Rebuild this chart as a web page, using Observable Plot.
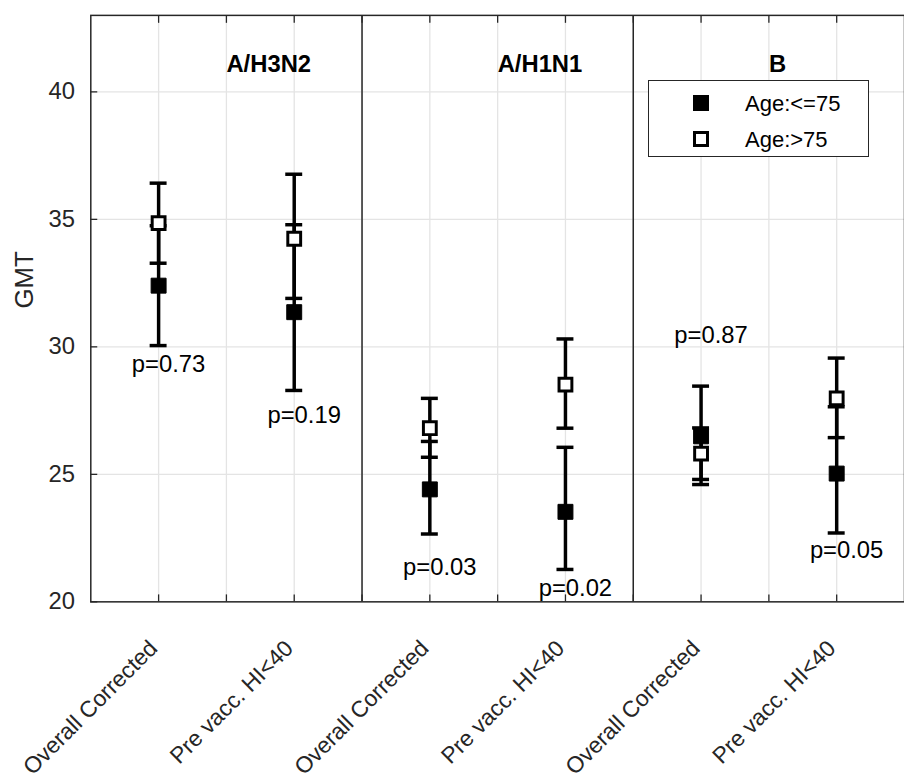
<!DOCTYPE html>
<html>
<head>
<meta charset="utf-8">
<script src="https://cdn.jsdelivr.net/npm/d3@7"></script>
<script src="https://cdn.jsdelivr.net/npm/@observablehq/plot@0.6"></script>
<style>
  body { margin: 0; background: #fff; font-family: "Liberation Sans", Arial, Helvetica, sans-serif; }
  #wrap { position: relative; width: 904px; height: 780px; overflow: hidden; background: #fff; }
  #chart { position: absolute; left: 0; top: 0; }
  #legend { position: absolute; left: 648px; top: 80px; width: 219px; height: 75px;
            border: 1.5px solid #262626; background: #fff; }
  .item { position: absolute; left: 0; height: 30px; width: 219px; }
  .item svg { position: absolute; left: 44px; top: 6px; }
  .item span { position: absolute; left: 96px; top: 2px; font-size: 22px; color: #000; line-height: 26px; }
</style>
</head>
<body>
<div id="wrap"><div id="chart"></div><div id="legend"></div></div>
<script>
// ---- data ----
const strains = ["A/H3N2", "A/H1N1", "B"];
const categories = ["Overall Corrected", "Pre vacc. HI<40"];
const seriesNames = ["Age:<=75", "Age:>75"];
const yLabel = "GMT";

// order: H3N2-OC, H3N2-PV, H1N1-OC, H1N1-PV, B-OC, B-PV
const youngGMT = [32.40, 31.36, 24.41, 23.53, 26.49, 25.03];
const youngLo  = [30.05, 28.29, 22.66, 21.27, 24.60, 22.70];
const youngHi  = [34.75, 34.79, 26.29, 26.06, 28.46, 27.65];

const oldGMT = [34.85, 34.24, 26.81, 28.52, 25.81, 27.98];
const oldLo  = [33.28, 31.90, 25.67, 26.81, 24.80, 26.44];
const oldHi  = [36.42, 36.77, 27.98, 30.31, 26.82, 29.56];

const pValues   = ["p=0.73", "p=0.19", "p=0.03", "p=0.02", "p=0.87", "p=0.05"];
const pLabelGMT = [29.30, 27.31, 21.36, 20.52, 30.44, 22.02];

const yTicks = [20, 25, 30, 35, 40];

// ---- build table ----
const rows = [];
strains.forEach((s, i) => categories.forEach((c, j) => {
  const k = i * categories.length + j;
  rows.push({
    strain: s, category: c, x: i * 4 + 1 + j * 2,
    yG: youngGMT[k], yL: youngLo[k], yH: youngHi[k],
    oG: oldGMT[k], oL: oldLo[k], oH: oldHi[k],
    p: pValues[k], pY: pLabelGMT[k]
  });
}));
const gridXs = d3.range(1, strains.length * 4);
const dividers = strains.slice(1).map((_, i) => (i + 1) * 4);

const ink = "#262626";
const capHalf = 0.125;
const barW = 3.5;

function errorMarks(lo, hi) {
  return [
    Plot.ruleX(rows, {x: "x", y1: lo, y2: hi, stroke: "black", strokeWidth: barW}),
    Plot.ruleY(rows, {y: lo, x1: d => d.x - capHalf, x2: d => d.x + capHalf, stroke: "black", strokeWidth: barW}),
    Plot.ruleY(rows, {y: hi, x1: d => d.x - capHalf, x2: d => d.x + capHalf, stroke: "black", strokeWidth: barW})
  ];
}

const chart = Plot.plot({
  width: 911,
  height: 780,
  marginLeft: 91,
  marginRight: 0,
  marginTop: 15,
  marginBottom: 174,
  style: {fontFamily: '"Liberation Sans", Arial, Helvetica, sans-serif', background: "#fff"},
  x: {domain: [0, 12]},
  y: {domain: [20, 43]},
  marks: [
    Plot.gridX(gridXs, {stroke: "#e4e4e4", strokeOpacity: 1, strokeWidth: 1.3}),
    Plot.gridY(yTicks, {stroke: "#e4e4e4", strokeOpacity: 1, strokeWidth: 1.3}),
    Plot.ruleX(dividers, {stroke: ink, strokeWidth: 1.5}),
    Plot.frame({stroke: ink, strokeWidth: 1.5}),
    Plot.axisX(gridXs, {anchor: "bottom", tickSize: -7, tickFormat: () => "", label: null, stroke: ink, strokeWidth: 1.3}),
    Plot.axisX(gridXs, {anchor: "top", tickSize: -7, tickFormat: () => "", label: null, stroke: ink, strokeWidth: 1.3}),
    Plot.axisY(yTicks, {anchor: "left", tickSize: -7, tickPadding: 23, fontSize: 24, label: null, color: ink, strokeWidth: 1.3}),
    Plot.text(rows, {x: "x", text: "category", frameAnchor: "bottom", rotate: -45, textAnchor: "end",
      lineAnchor: "middle", dx: -5, dy: 43, fontSize: 23, fill: ink}),
    Plot.text([{t: yLabel}], {text: "t", frameAnchor: "left", rotate: -90, dx: -67, dy: 0, fontSize: 26, fill: ink}),
    Plot.text(strains, {x: (d, i) => i * 4 + 2, frameAnchor: "top", dy: 40, textAnchor: "start",
      fontWeight: "bold", fontSize: 24, fill: "black"}),
    ...errorMarks("yL", "yH"),
    Plot.dot(rows, {x: "x", y: "yG", symbol: "square", r: 8.5, fill: "black", stroke: "black", strokeWidth: 1}),
    ...errorMarks("oL", "oH"),
    Plot.dot(rows, {x: "x", y: "oG", symbol: "square", r: 7.3, fill: "white", stroke: "black", strokeWidth: 3}),
    Plot.text(rows, {x: "x", y: "pY", text: "p", dx: 10, fontSize: 24, fill: "black"})
  ]
});
document.getElementById("chart").appendChild(chart);

// legend
const legend = document.getElementById("legend");
seriesNames.forEach((name, i) => {
  const div = document.createElement("div");
  div.className = "item";
  div.style.top = (8 + i * 36) + "px";
  const filled = i === 0;
  div.innerHTML = `<svg width="16" height="16"><rect x="${filled ? 0.5 : 1.5}" y="${filled ? 0.5 : 1.5}" width="${filled ? 15 : 13}" height="${filled ? 15 : 13}" fill="${filled ? "black" : "white"}" stroke="black" stroke-width="${filled ? 1 : 3}"/></svg><span>${name}</span>`;
  legend.appendChild(div);
});
</script>
</body>
</html>
